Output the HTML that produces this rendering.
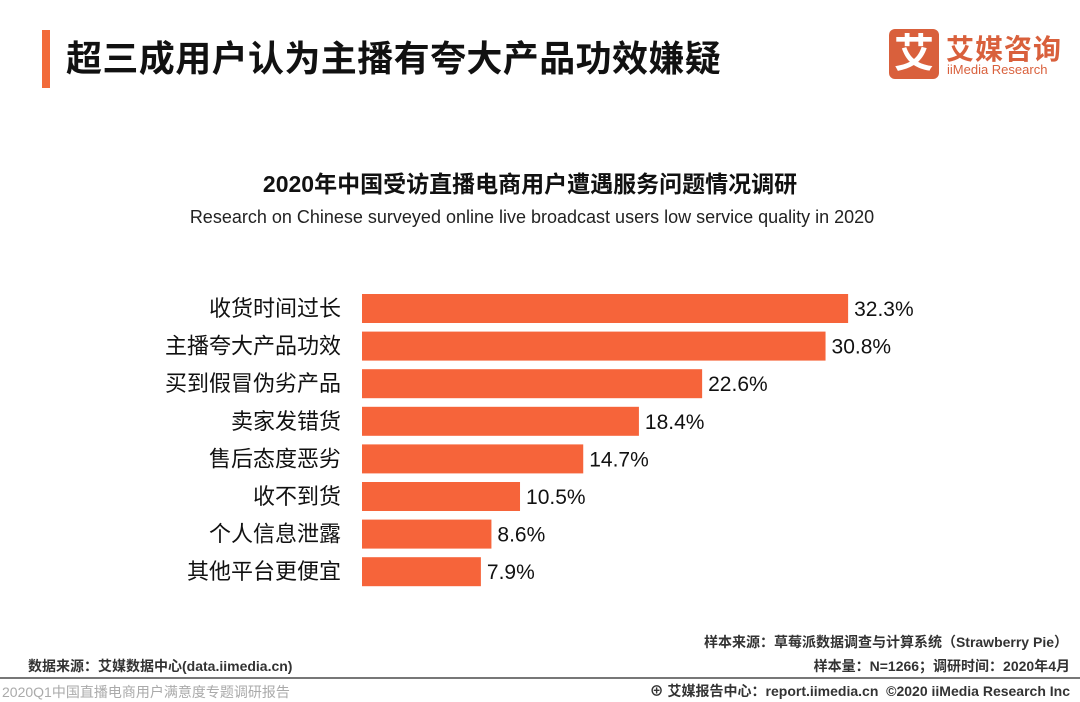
<!DOCTYPE html>
<html><head><meta charset="utf-8">
<style>
body{margin:0;width:1080px;height:702px;background:#fff;position:relative;overflow:hidden;font-family:"Liberation Sans","Noto Sans CJK SC",sans-serif;}
.abs{position:absolute;}
</style></head><body>
<div class="abs" style="left:42px;top:30px;width:8px;height:58px;background:#f26b3a;"></div>
<div class="abs" style="left:66px;top:30px;font-size:36px;font-weight:bold;color:#111;letter-spacing:0.4px;">超三成用户认为主播有夸大产品功效嫌疑</div>
<div class="abs" style="left:889px;top:29px;width:50px;height:50px;background:#d9603c;border-radius:6px;color:#fff;font-size:40px;font-weight:bold;text-align:center;line-height:50px;">艾</div>
<div class="abs" style="left:946px;top:28px;font-size:28px;font-weight:bold;color:#d9603c;letter-spacing:1px;">艾媒咨询</div>
<div class="abs" style="left:947px;top:62px;font-size:13px;color:#d9603c;">iiMedia Research</div>
<div class="abs" style="left:0;width:1060px;top:165px;text-align:center;font-size:23px;font-weight:bold;color:#111;">2020年中国受访直播电商用户遭遇服务问题情况调研</div>
<div class="abs" style="left:0;width:1064px;top:207px;text-align:center;font-size:18px;color:#222;">Research on Chinese surveyed online live broadcast users low service quality in 2020</div>
<svg class="abs" style="left:0;top:0" width="1080" height="702" id="chart"></svg>
<div class="abs" style="right:12px;top:632px;font-size:14px;color:#333;font-weight:bold;">样本来源：草莓派数据调查与计算系统（Strawberry Pie）</div>
<div class="abs" style="left:28px;top:656px;font-size:14px;color:#333;font-weight:bold;">数据来源：艾媒数据中心(data.iimedia.cn)</div>
<div class="abs" style="right:10px;top:656px;font-size:14px;color:#333;font-weight:bold;">样本量：N=1266；调研时间：2020年4月</div>
<div class="abs" style="left:0;top:677px;width:1080px;height:2px;background:#777;"></div>
<div class="abs" style="left:2px;top:682px;font-size:14px;color:#aaa;">2020Q1中国直播电商用户满意度专题调研报告</div>
<div class="abs" style="right:10px;top:681px;font-size:14px;color:#333;font-weight:bold;">⊕ 艾媒报告中心：report.iimedia.cn &nbsp;©2020 iiMedia Research Inc</div>
<script>
const categories=["收货时间过长","主播夸大产品功效","买到假冒伪劣产品","卖家发错货","售后态度恶劣","收不到货","个人信息泄露","其他平台更便宜"];
const values=[32.3,30.8,22.6,18.4,14.7,10.5,8.6,7.9];
const labels=["32.3%","30.8%","22.6%","18.4%","14.7%","10.5%","8.6%","7.9%"];
const svg=document.getElementById('chart');
const NS='http://www.w3.org/2000/svg';
const x0=362, pxPer=15.05;
const xs=v=>v*pxPer;
const yc=i=>308+i*37.6;
categories.forEach((c,i)=>{
 const r=document.createElementNS(NS,'rect');
 r.setAttribute('x',x0);r.setAttribute('y',yc(i)-14);r.setAttribute('width',xs(values[i]));r.setAttribute('height',29);r.setAttribute('fill','#f6643a');
 
 
 svg.appendChild(r);
 const t=document.createElementNS(NS,'text');
 t.setAttribute('x',x0-21);t.setAttribute('y',yc(i)+8);t.setAttribute('text-anchor','end');t.setAttribute('font-size','22');t.setAttribute('fill','#111');
 t.setAttribute('font-family','"Liberation Sans","Noto Sans CJK SC",sans-serif');
 t.textContent=c;
 
 
 svg.appendChild(t);
 const v=document.createElementNS(NS,'text');
 v.setAttribute('x',x0+xs(values[i])+6);v.setAttribute('y',yc(i)+8);v.setAttribute('font-size','21');v.setAttribute('fill','#111');
 v.setAttribute('font-family','"Liberation Sans",sans-serif');
 v.textContent=labels[i];
 
 
 svg.appendChild(v);
});
</script>
</body></html>
